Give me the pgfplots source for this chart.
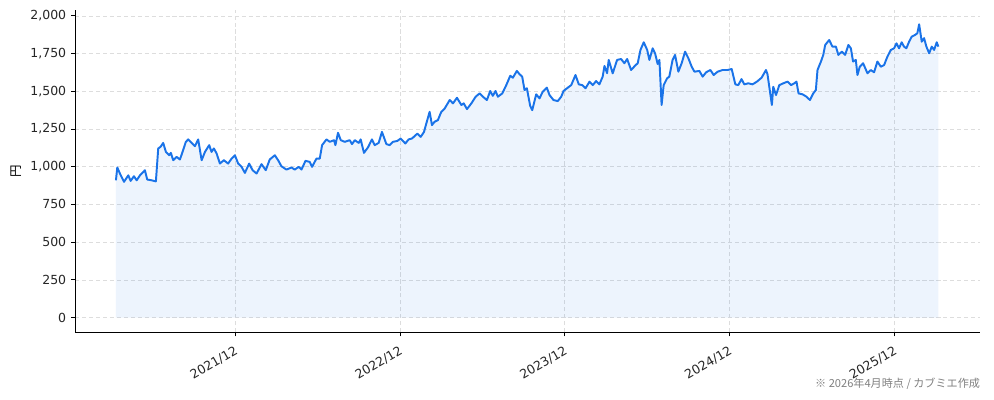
\documentclass[border=0pt]{standalone}
\usepackage{fontspec}
\setmainfont{DejaVu Sans}
\newfontfamily\cjk{Noto Sans CJK JP}
\usepackage{pgfplots}
\usepackage{pgfplotstable}
\pgfplotsset{compat=1.18}
\definecolor{kline}{HTML}{1A73E8}
\definecolor{gridc}{HTML}{DDDDDD}

% x = months since 2021/01, y = price (yen)
\pgfplotstableread{
x y
2.32 910
2.42 995
2.61 955
2.91 900
3.22 943
3.39 906
3.63 937
3.83 910
4.07 943
4.43 977
4.60 915
4.92 910
5.23 903
5.40 1121
5.57 1132
5.76 1158
5.96 1098
6.20 1076
6.32 1092
6.49 1043
6.74 1065
6.98 1048
7.17 1098
7.41 1165
7.58 1181
7.83 1158
8.07 1136
8.31 1181
8.56 1043
8.80 1098
9.11 1143
9.28 1098
9.45 1121
9.65 1088
9.89 1021
10.18 1043
10.49 1021
10.74 1054
10.98 1076
11.22 1021
11.47 999
11.71 959
12.02 1021
12.27 977
12.56 955
12.92 1017
13.23 977
13.52 1048
13.89 1076
14.13 1043
14.37 1003
14.74 981
15.10 995
15.34 981
15.63 999
15.83 981
16.12 1039
16.43 1032
16.60 999
16.92 1054
17.16 1054
17.33 1143
17.65 1181
17.89 1165
18.20 1176
18.30 1143
18.49 1225
18.69 1176
18.98 1165
19.34 1176
19.51 1150
19.71 1176
20.00 1158
20.14 1181
20.38 1092
20.67 1128
20.96 1181
21.16 1143
21.45 1158
21.69 1231
22.01 1150
22.25 1143
22.49 1165
22.81 1171
23.05 1187
23.39 1154
23.63 1181
23.87 1187
24.07 1203
24.27 1220
24.51 1198
24.75 1231
24.92 1287
25.16 1364
25.33 1276
25.52 1298
25.76 1309
26.01 1364
26.25 1385
26.62 1442
26.86 1420
27.15 1457
27.47 1409
27.64 1420
27.88 1382
28.20 1420
28.51 1464
28.80 1486
29.04 1464
29.33 1442
29.57 1502
29.76 1470
29.96 1502
30.13 1464
30.45 1486
30.74 1541
31.03 1603
31.22 1590
31.51 1635
31.71 1613
31.90 1597
32.07 1508
32.24 1520
32.48 1404
32.63 1375
32.92 1480
33.16 1453
33.40 1498
33.69 1524
33.89 1475
34.18 1442
34.49 1435
34.74 1464
34.91 1502
35.22 1524
35.47 1541
35.78 1608
36.02 1546
36.27 1541
36.51 1520
36.80 1564
37.04 1541
37.28 1568
37.52 1546
37.76 1597
37.89 1668
38.08 1620
38.20 1708
38.49 1619
38.81 1708
39.10 1714
39.34 1686
39.54 1714
39.83 1641
40.12 1670
40.31 1686
40.51 1774
40.75 1825
41.00 1774
41.16 1708
41.40 1785
41.58 1750
41.76 1681
41.89 1708
42.05 1409
42.20 1541
42.45 1586
42.61 1597
42.85 1708
43.03 1741
43.27 1630
43.51 1686
43.76 1763
44.00 1719
44.24 1663
44.44 1630
44.80 1635
45.04 1597
45.29 1626
45.60 1641
45.84 1608
46.13 1630
46.49 1641
46.85 1641
47.15 1648
47.42 1546
47.63 1541
47.87 1581
48.07 1546
48.36 1553
48.67 1546
48.99 1564
49.33 1590
49.65 1641
49.76 1613
49.94 1498
50.08 1409
50.18 1530
50.38 1475
50.62 1541
50.91 1553
51.22 1564
51.47 1541
51.71 1553
51.87 1564
52.02 1486
52.31 1480
52.60 1464
52.85 1442
53.09 1486
53.28 1508
53.40 1641
53.65 1697
53.82 1741
53.96 1807
54.25 1840
54.49 1796
54.74 1796
54.92 1741
55.17 1763
55.41 1741
55.65 1807
55.83 1785
55.99 1697
56.19 1708
56.31 1608
56.48 1663
56.72 1686
57.04 1619
57.28 1641
57.52 1626
57.76 1697
58.01 1663
58.25 1674
58.49 1730
58.74 1774
58.98 1785
59.15 1818
59.34 1785
59.53 1825
59.70 1796
59.87 1785
60.07 1829
60.26 1862
60.51 1874
60.67 1885
60.80 1944
60.99 1829
61.16 1852
61.33 1796
61.53 1752
61.72 1796
61.89 1774
62.08 1825
62.20 1796
}\pricedata

\begin{document}
\begin{tikzpicture}
\begin{axis}[
    name=ax,
    scale only axis,
    width=651.4pt, height=231.8pt,
    xmin=-0.64, xmax=65.23,
    ymin=-97, ymax=2037,
    axis x line*=bottom, axis y line*=left,
    axis line style={-, black, line width=0.7pt},
    every outer x axis line/.append style={-},
    every outer y axis line/.append style={-},
    xtick={11,23,35,47,59},
    xticklabels={2021/12,2022/12,2023/12,2024/12,2025/12},
    ytick={0,250,...,2000},
    scaled y ticks=false,
    /pgf/number format/1000 sep={,},
    /pgf/number format/assume math mode=true,
    tick align=outside,
    major tick length=3pt,
    tick style={black, line width=0.6pt},
    xmajorgrids, ymajorgrids,
    grid style={gridc, dash pattern=on 3pt off 2pt, line width=0.5pt},
    ticklabel style={font=\fontsize{9}{10}\selectfont, text=black!85},
    xticklabel style={rotate=30, anchor=north east, yshift=-1.5pt, xshift=-0.5pt},
    ylabel={\cjk 円},
    ylabel style={at={(rel axis cs:-0.0655,0.5)}, anchor=center, font=\fontsize{9}{10}\selectfont},
    clip=false,
]
\addplot[fill=kline, fill opacity=0.08, draw=none, forget plot] table[x=x,y=y] {\pricedata} \closedcycle;
\addplot[kline, line width=1.4pt, line join=round, mark=none] table[x=x,y=y] {\pricedata};
\node[anchor=east, text=black!50, font=\cjk\fontsize{8}{9}\selectfont] at (rel axis cs:1.0055,-0.1606) {※ 2026年4月時点 / カブミエ作成};
\end{axis}
\pgfresetboundingbox
\path ([xshift=-54.2pt,yshift=-48.7pt]ax.south west) rectangle ([xshift=10.1pt,yshift=7.4pt]ax.north east);
\end{tikzpicture}
\end{document}
